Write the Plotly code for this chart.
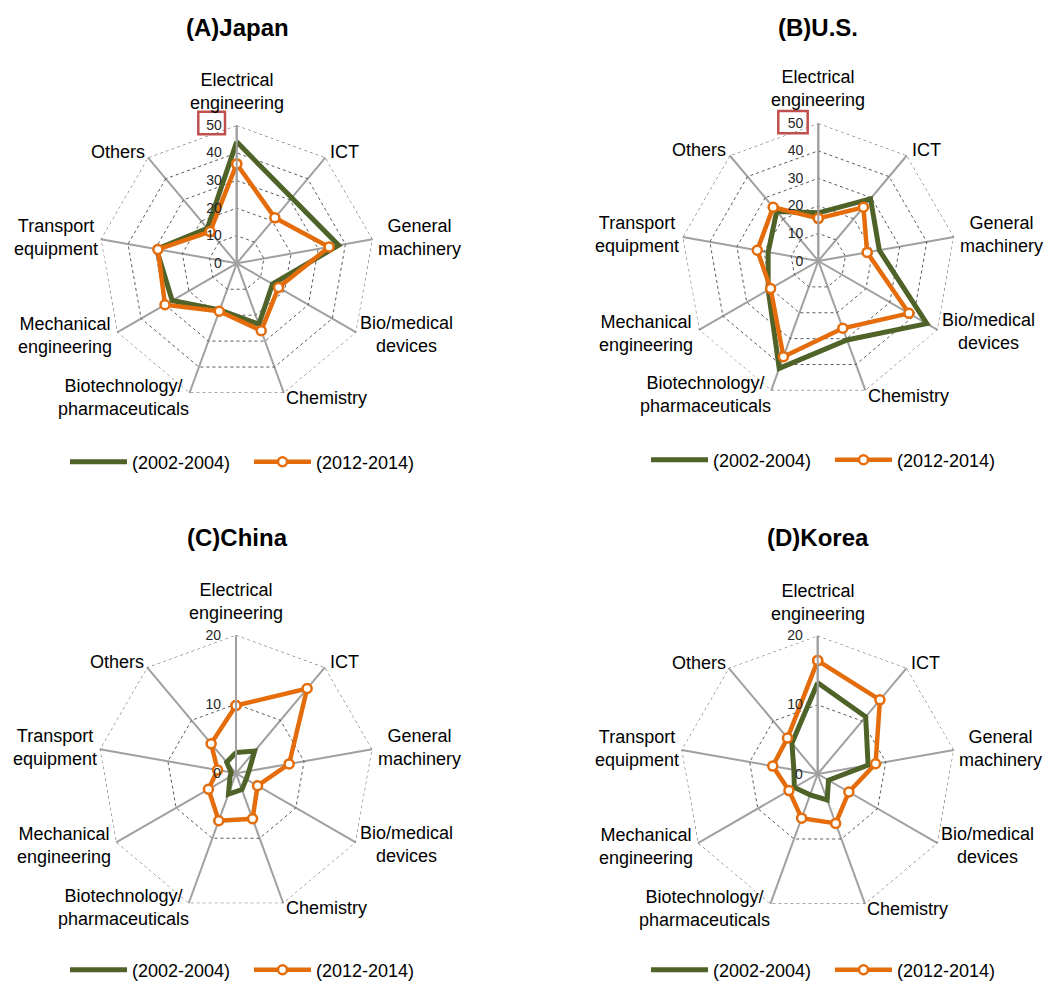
import plotly.graph_objects as go

# Technology fields shown on each radar (clockwise from the top)
categories = [
    "Electrical<br>engineering", "ICT", "General<br>machinery", "Bio/medical<br>devices",
    "Chemistry", "Biotechnology/<br>pharmaceuticals", "Mechanical<br>engineering",
    "Transport<br>equipment", "Others",
]

period_old = "(2002-2004)"
period_new = "(2012-2014)"

# Shares (%) by field
japan_old = [44, 31, 37.5, 15, 23.5, 18, 27, 29.5, 16.5]
japan_new = [36, 21.5, 34, 17.5, 26, 18.5, 30, 29, 15]
us_old = [17.5, 29.5, 22.5, 45.5, 30.5, 41.5, 21, 18.5, 23.5]
us_new = [15.5, 25.5, 18, 38, 26, 37, 20, 22.5, 25.5]
china_old = [3, 4.2, 1.9, 1.7, 2.5, 3.2, 1.0, 0.7, 2.1]
china_new = [9.8, 16, 7.8, 3.6, 7, 7.3, 4.6, 2.7, 5.6]
korea_old = [13.2, 10.8, 7.4, 1.8, 4.0, 3.2, 3.9, 3.5, 5.8]
korea_new = [16.4, 14, 8.5, 5.2, 7.6, 6.8, 4.8, 6.6, 6.8]

titles = ["(A)Japan", "(B)U.S.", "(C)China", "(D)Korea"]
ticks_wide = [0, 10, 20, 30, 40, 50]
ticks_narrow = [0, 10, 20]

GREEN = "#4f6228"
ORANGE = "#e46c0a"
GRID = "#5a5a5a"
SPOKE = "#a0a0a0"
FONT = "Liberation Sans, Arial, sans-serif"

W, H = 1048, 986

panels = [
    dict(old=japan_old, new=japan_new, ticks=ticks_wide, cx=236.7, cy=263.3, r=138.0),
    dict(old=us_old, new=us_new, ticks=ticks_wide, cx=818.3, cy=261.0, r=137.7),
    dict(old=china_old, new=china_new, ticks=ticks_narrow, cx=236.0, cy=773.3, r=138.3),
    dict(old=korea_old, new=korea_new, ticks=ticks_narrow, cx=817.7, cy=774.0, r=138.3),
]
legend_pos = [(65, 462), (646, 460), (65, 970), (646, 970)]
title_pos = [(237, 27), (818, 27), (237, 537), (818, 537)]

# Pixel offsets of each field label's centre from the radar centre
label_offsets = [
    (0, -172), (108, -111), (183, -26), (170, 71), (90, 135),
    (-113, 134), (-172, 72), (-181, -26), (-119, -111),
]


def closed(vals):
    return list(vals) + [vals[0]]


fig = go.Figure()
layout = dict(
    width=W, height=H, margin=dict(l=0, r=0, t=0, b=0, autoexpand=False),
    paper_bgcolor="white", plot_bgcolor="white",
    font=dict(family=FONT, size=18, color="#000000"),
    annotations=[], shapes=[],
)

for i, p in enumerate(panels):
    pid = "polar" if i == 0 else f"polar{i + 1}"
    lid = "legend" if i == 0 else f"legend{i + 1}"
    theta = closed(categories)
    top = p["ticks"][-1]
    # outer dotted ring at the last scale value
    fig.add_trace(go.Scatterpolar(
        r=[top] * len(theta), theta=theta, mode="lines",
        line=dict(color=GRID, width=1, dash="dot"),
        hoverinfo="skip", showlegend=False, subplot=pid,
    ))
    fig.add_trace(go.Scatterpolar(
        r=closed(p["old"]), theta=theta, mode="lines", name=period_old,
        line=dict(color=GREEN, width=5), subplot=pid, legend=lid,
    ))
    fig.add_trace(go.Scatterpolar(
        r=closed(p["new"]), theta=theta, mode="lines+markers", name=period_new,
        line=dict(color=ORANGE, width=4.5),
        marker=dict(size=9, color="white", line=dict(color=ORANGE, width=2.5)),
        subplot=pid, legend=lid,
    ))
    x0 = (p["cx"] - p["r"]) / W
    x1 = (p["cx"] + p["r"]) / W
    y0 = 1 - (p["cy"] + p["r"]) / H
    y1 = 1 - (p["cy"] - p["r"]) / H
    layout[pid] = dict(
        domain=dict(x=[x0, x1], y=[y0, y1]),
        bgcolor="white",
        gridshape="linear",
        radialaxis=dict(
            range=[0, top], tickvals=p["ticks"], ticktext=[str(t) for t in p["ticks"]],
            angle=90, tickangle=90, side="counterclockwise",
            showline=True, linecolor=SPOKE, linewidth=2,
            ticks="outside", ticklen=9, tickcolor="rgba(0,0,0,0)",
            tickfont=dict(size=14, color="#262626", family=FONT),
            showgrid=True, gridcolor=GRID, gridwidth=1, griddash="dot",
        ),
        angularaxis=dict(
            categoryorder="array", categoryarray=categories,
            rotation=90, direction="clockwise",
            showline=False, ticks="", showticklabels=False,
            showgrid=True, gridcolor=SPOKE, gridwidth=2,
        ),
    )
    for cat, (dx, dy) in zip(categories, label_offsets):
        layout["annotations"].append(dict(
            text=cat, x=(p["cx"] + dx) / W, y=1 - (p["cy"] + dy) / H,
            xref="paper", yref="paper", showarrow=False,
            xanchor="center", yanchor="middle", align="center",
            font=dict(size=18, family=FONT, color="#000000"),
        ))
    lx, ly = legend_pos[i]
    layout[lid] = dict(
        orientation="h", x=lx / W, y=1 - ly / H, xanchor="left", yanchor="middle",
        font=dict(size=18, family=FONT, color="#000000"), bgcolor="rgba(0,0,0,0)",
        itemwidth=57, entrywidth=112, traceorder="normal",
    )
    tx, ty = title_pos[i]
    layout["annotations"].append(dict(
        text=f"<b>{titles[i]}</b>", x=tx / W, y=1 - ty / H, xref="paper", yref="paper",
        showarrow=False, xanchor="center", yanchor="middle",
        font=dict(size=24, family=FONT, color="#000000"),
    ))

# Highlight boxes around the top scale value of the first two radars
for (bx0, by0, bx1, by1) in [(198.3, 111.7, 225.0, 134.3), (778.3, 111.0, 807.7, 133.3)]:
    layout["shapes"].append(dict(
        type="rect", xref="paper", yref="paper",
        x0=bx0 / W, x1=bx1 / W, y0=1 - by1 / H, y1=1 - by0 / H,
        line=dict(color="#c0504d", width=2.5), fillcolor="rgba(0,0,0,0)",
    ))

fig.update_layout(**layout)
fig.write_html("out.html")
